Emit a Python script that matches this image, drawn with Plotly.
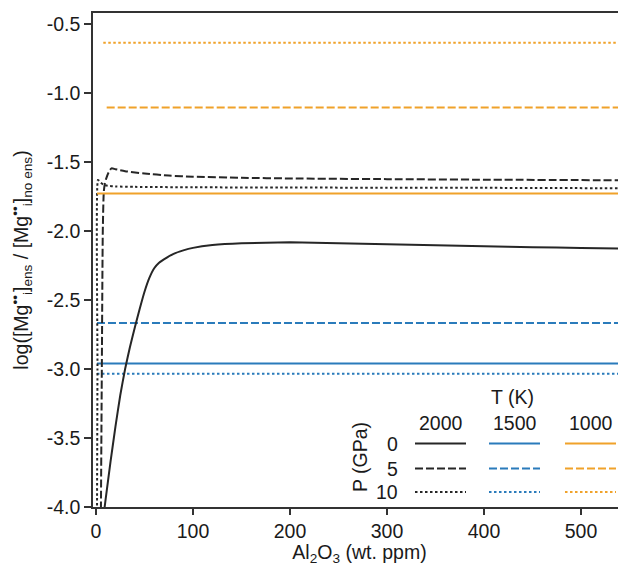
import plotly.graph_objects as go

# ---------------- data ----------------
X_END = 539
x_2000_p0 = [8, 10, 15, 20, 25, 30, 35, 40, 45, 50, 55, 60, 65, 70, 80, 90, 100, 120, 150, 200, 250, 300, 350, 400, 450, 500, 539]
y_2000_p0 = [-4.05, -3.94, -3.67, -3.42, -3.19, -3.0, -2.84, -2.70, -2.565, -2.44, -2.34, -2.27, -2.23, -2.205, -2.165, -2.14, -2.122, -2.102, -2.089, -2.082, -2.088, -2.096, -2.104, -2.111, -2.117, -2.123, -2.127]

x_2000_p5 = [5, 6, 7, 8, 9, 10.5, 13, 16, 20, 30, 50, 75, 100, 150, 200, 300, 400, 539]
y_2000_p5 = [-4.1, -3.0, -2.0, -1.72, -1.66, -1.62, -1.575, -1.546, -1.552, -1.566, -1.583, -1.598, -1.606, -1.614, -1.619, -1.624, -1.628, -1.632]

x_2000_p10 = [1.0, 1.5, 2.0, 3, 5, 8, 12, 20, 40, 100, 200, 300, 400, 539]
y_2000_p10 = [-4.1, -3.0, -1.63, -1.635, -1.65, -1.665, -1.672, -1.677, -1.68, -1.683, -1.685, -1.686, -1.687, -1.69]

x_1500 = [1, X_END]
y_1500_p0 = [-2.96, -2.96]
y_1500_p5 = [-2.667, -2.667]
y_1500_p10 = [-3.035, -3.035]

x_1000_p0 = [1, X_END]
y_1000_p0 = [-1.728, -1.728]
x_1000_p5 = [11, X_END]
y_1000_p5 = [-1.105, -1.105]
x_1000_p10 = [7.5, X_END]
y_1000_p10 = [-0.636, -0.636]

temps = ["2000", "1500", "1000"]
pressures = ["0", "5", "10"]
x_ticks = [0, 100, 200, 300, 400, 500]
y_ticks = [-4.0, -3.5, -3.0, -2.5, -2.0, -1.5, -1.0, -0.5]

# ---------------- styles ----------------
BLACK = "#262626"
BLUE = "#2a7bbb"
ORANGE = "#f0a22a"
DASH = "8px,3px"
DOT = "2.5px,2.5px"
FONT = "Liberation Sans, Arial, sans-serif"
FS = 19.5
LW = 2

fig = go.Figure()

def add(x, y, color, dash, smoothing=0.6):
    fig.add_trace(go.Scatter(x=x, y=y, mode="lines", showlegend=False,
                             line=dict(color=color, width=LW, dash=dash, shape="spline", smoothing=smoothing),
                             hoverinfo="skip"))

add(x_1000_p10, y_1000_p10, ORANGE, DOT)
add(x_1000_p5, y_1000_p5, ORANGE, DASH)
add(x_1500, y_1500_p5, BLUE, DASH)
add(x_1500, y_1500_p0, BLUE, "solid")
add(x_1500, y_1500_p10, BLUE, DOT)
add(x_2000_p10, y_2000_p10, BLACK, DOT)
add(x_2000_p5, y_2000_p5, BLACK, DASH)
add(x_1000_p0, y_1000_p0, ORANGE, "solid")
add(x_2000_p0, y_2000_p0, BLACK, "solid", smoothing=0.4)

# ---------------- layout ----------------
# the page body has an 8px margin, so the figure is offset by 8px
OFF = 8
W, H = 626 - OFF, 566 - OFF
# plot area in window pixels
PX0, PX1, PY0, PY1 = 93, 626, 13, 507
L, T = PX0 - OFF, PY0 - OFF
R = (626 - OFF) - (PX1 - OFF)
B = H - (PY1 - OFF)
PW, PH = PX1 - PX0, PY1 - PY0

def px(xp):
    return (xp - PX0) / PW

def py(yp):
    return (PY1 - yp) / PH

annotations = []
shapes = []
tf = dict(family=FONT, size=FS, color="#1a1a1a")

annotations.append(dict(x=px(512), y=py(397), xref="paper", yref="paper", text="T (K)",
                        showarrow=False, font=tf, xanchor="center", yanchor="middle"))
col_x = [(415, 466), (489, 540), (565, 616)]
col_colors = [BLACK, BLUE, ORANGE]
for (x0, x1), t in zip(col_x, temps):
    annotations.append(dict(x=px((x0 + x1) / 2), y=py(423), xref="paper", yref="paper", text=t,
                            showarrow=False, font=tf, xanchor="center", yanchor="middle"))
row_y = [443.5, 468.5, 492]
row_dash = ["solid", DASH, DOT]
for yr, p, d in zip(row_y, pressures, row_dash):
    annotations.append(dict(x=px(400), y=py(yr), xref="paper", yref="paper", text=p,
                            showarrow=False, font=tf, xanchor="right", yanchor="middle"))
    for (x0, x1), c in zip(col_x, col_colors):
        shapes.append(dict(type="line", xref="paper", yref="paper", x0=px(x0), x1=px(x1),
                           y0=py(yr), y1=py(yr), line=dict(color=c, width=LW, dash=d)))
annotations.append(dict(x=px(360), y=py(457), xref="paper", yref="paper", text="P (GPa)",
                        showarrow=False, font=tf, textangle=-90, xanchor="center", yanchor="middle"))

fig.update_layout(
    width=W, height=H,
    margin=dict(l=L, r=R, t=T, b=B, pad=0),
    paper_bgcolor="white", plot_bgcolor="white",
    font=dict(family=FONT, size=FS, color="#1a1a1a"),
    annotations=annotations, shapes=shapes,
    xaxis=dict(range=[-3.1, 546.4], tickvals=x_ticks, ticktext=[str(v) for v in x_ticks],
               showgrid=False, zeroline=False, showline=True, linecolor="#333", linewidth=1.5,
               mirror=True, ticks="outside", ticklen=6, tickwidth=1.5, tickcolor="#333",
               tickfont=dict(family=FONT, size=FS, color="#1a1a1a"),
               title=dict(text="Al<sub>2</sub>O<sub>3</sub> (wt. ppm)", standoff=0,
                          font=dict(family=FONT, size=FS, color="#1a1a1a"))),
    yaxis=dict(range=[-4.0, -0.42], tickvals=y_ticks, ticktext=[f"{v:.1f}" for v in y_ticks],
               showgrid=False, zeroline=False, showline=True, linecolor="#333", linewidth=1.5,
               ticks="outside", ticklen=7, tickwidth=1.5, tickcolor="#333",
               tickfont=dict(family=FONT, size=FS, color="#1a1a1a"),
               title=dict(text="log([Mg<sup>••</sup><sub>i</sub>]<sub>ens</sub> / [Mg<sup>••</sup><sub>i</sub>]<sub>no ens</sub>)",
                          standoff=16, font=dict(family=FONT, size=FS, color="#1a1a1a"))),
)

fig.write_html("out.html")
